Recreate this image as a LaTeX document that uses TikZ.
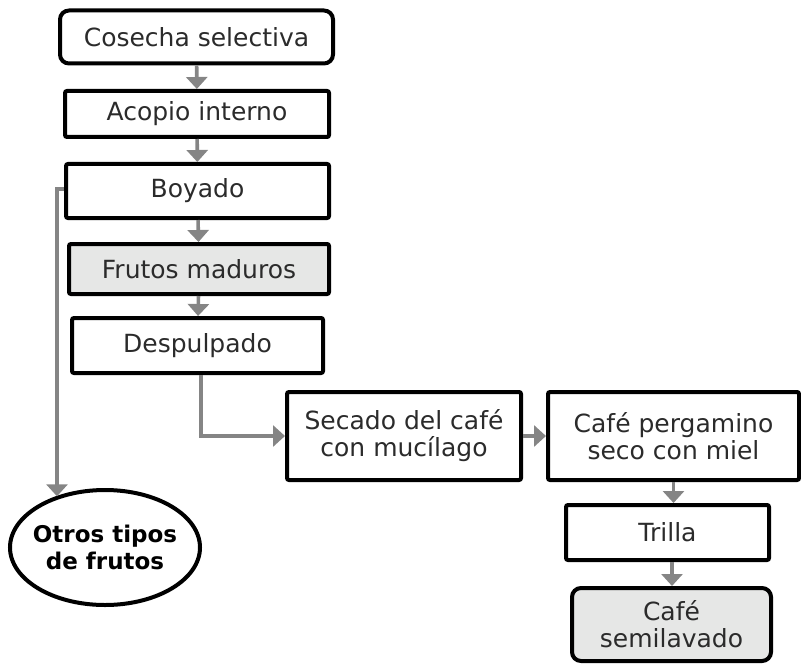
\documentclass[tikz,border=0pt]{standalone}
\usepackage{fontspec}
\setmainfont{DejaVu Sans}
\usepackage{xcolor}
\usepackage{tikz}
\usetikzlibrary{positioning,arrows.meta,shapes.geometric,calc}
\definecolor{ink}{HTML}{2B2B2B}
\definecolor{arrowgray}{HTML}{858585}
\definecolor{graybg}{HTML}{E6E7E6}
\tikzset{
  blk/.style={rectangle,rounded corners=1pt,draw=black,line width=2pt,fill=white,
    align=center,inner sep=2pt,text=ink,font=\fontsize{12.5}{13.5}\selectfont},
  blkg/.style={blk,fill=graybg},
  blkr/.style={blk,rounded corners=4.5pt},
  ovl/.style={ellipse,draw=black,line width=2pt,align=center,inner sep=-6pt,
    minimum width=95pt,minimum height=57.5pt,font=\fontsize{11.5}{13.5}\selectfont\bfseries},
  ar/.style={-{Triangle[length=6pt,width=10.5pt]},line width=1.8pt,draw=arrowgray},
}
\begin{document}
\begin{tikzpicture}[x=0.5pt,y=-0.5pt]
  \useasboundingbox (0,0) rectangle (801,663);
  \node[blkr,minimum width=136.5pt,minimum height=26.5pt] (cos) at (196.5,37) {Cosecha selectiva};
  \node[blk,minimum width=132pt,minimum height=23pt] (aco) at (197,114) {Acopio interno};
  \node[blk,minimum width=131.5pt,minimum height=27pt] (boy) at (197.5,191) {Boyado};
  \node[blkg,minimum width=130pt,minimum height=25pt] (fru) at (199,269) {Frutos maduros};
  \node[blk,minimum width=125.5pt,minimum height=27.5pt] (des) at (197.5,345.5) {Despulpado};
  \node[blk,minimum width=117pt,minimum height=44pt] (sec) at (404,436) {Secado del café\\con mucílago};
  \node[blk,minimum width=125.5pt,minimum height=44pt] (per) at (673.5,436) {Café pergamino\\seco con miel};
  \node[blk,minimum width=101.5pt,minimum height=27.5pt] (tri) at (667.5,532.5) {Trilla};
  \node[blkg,rounded corners=4.5pt,minimum width=99.5pt,minimum height=36.5pt] (sem) at (671.5,624.5) {Café\\semilavado};
  \node[ovl] (otr) at (105,547.5) {Otros tipos\\de frutos};
  \coordinate (kink) at (57,189);
  % main line
  \foreach \a/\b in {cos/aco,aco/boy,boy/fru,fru/des} \draw[ar] (\a)--(\b);
  \draw[ar] (des.south -| 201,0) |- (sec.west);
  \draw[ar] (sec)--(per);
  \draw[ar] (per.south) -- (per.south |- tri.north);
  \draw[ar] (tri.south -| 672,0) -- (sem.north -| 672,0);
  % rejected fruits
  \draw[ar] (boy.west |- kink) -- (kink) -- (kink |- otr.134);
\end{tikzpicture}
\end{document}
